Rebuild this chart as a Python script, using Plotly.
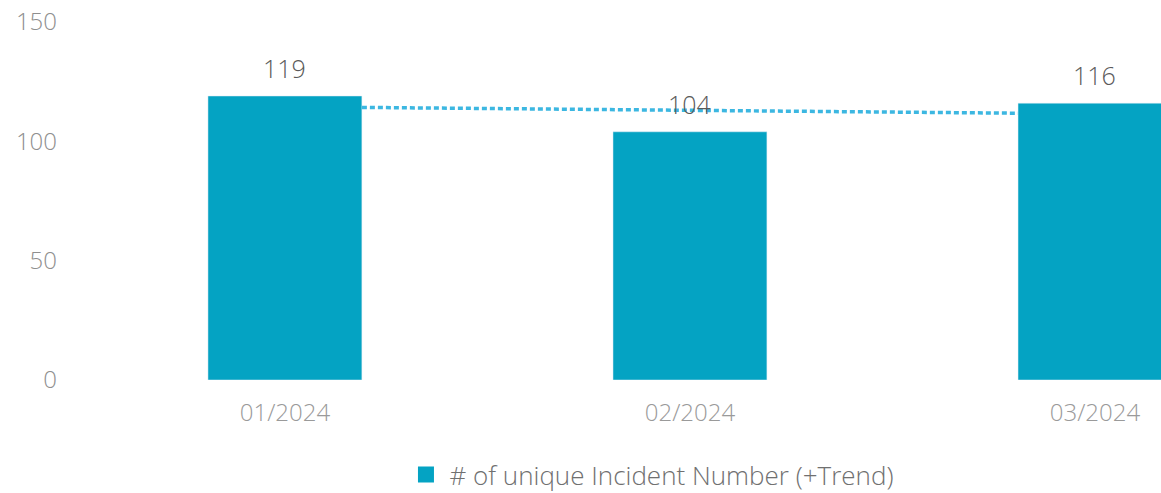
import numpy as np
import plotly.graph_objects as go

categories = ["01/2024", "02/2024", "03/2024"]
values = [119, 104, 116]
series_name = "# of unique Incident Number (+Trend)"
y_ticks = [0, 50, 100, 150]

bar_color = "#04A3C3"
trend_color = "#3CB7E1"

# linear trend of the series
xi = np.arange(len(values))
slope, intercept = np.polyfit(xi, values, 1)
half_w = 0.19
tx = [xi[0] + half_w, xi[-1] - half_w]
ty = [intercept + slope * t for t in tx]

fig = go.Figure()
fig.add_trace(go.Bar(
    x=list(xi), y=values, marker_color=bar_color, width=0.38,
    showlegend=False, hoverinfo="x+y",
))
fig.add_trace(go.Scatter(
    x=tx, y=ty, mode="lines",
    line=dict(color=trend_color, width=3.5, dash="5px,3px"),
    showlegend=False, hoverinfo="skip",
))
fig.add_trace(go.Scatter(
    x=[None], y=[None], mode="markers", name=series_name,
    marker=dict(symbol="square", size=16, color=bar_color),
    showlegend=True,
))

for i, v in enumerate(values):
    fig.add_annotation(x=i, y=v, text=str(v), showarrow=False,
                       yanchor="bottom", yshift=9,
                       font=dict(size=25, color="#5a5a5a", weight=300))

fig.update_layout(
    width=1161, height=501,
    margin=dict(l=82, r=0, t=22, b=121),
    paper_bgcolor="white", plot_bgcolor="white",
    font=dict(family="Open Sans", color="#888888", size=24, weight=300),
    xaxis=dict(
        tickmode="array", tickvals=list(xi), ticktext=categories,
        range=[-0.501, 2.163], showgrid=False, zeroline=False, showline=False,
        ticklabelstandoff=16, automargin=False, ticklabeloverflow="allow",
        tickfont=dict(size=24, color="#9a9a9a", weight=300),
    ),
    yaxis=dict(
        range=[0, 150], tickvals=y_ticks, showgrid=False, zeroline=False,
        showline=False, ticklabelstandoff=24, automargin=False,
        ticklabeloverflow="allow",
        tickfont=dict(size=24, color="#8f8f8f", weight=300),
    ),
    legend=dict(orientation="h", x=0.297, xanchor="left", y=-0.264,
                yanchor="middle", itemwidth=37,
                font=dict(size=26, color="#707070", weight=300)),
)

fig.write_html(
    "out.html",
    config={"displayModeBar": False},
    post_script="document.body.style.margin='0';document.body.style.overflow='hidden';",
)
